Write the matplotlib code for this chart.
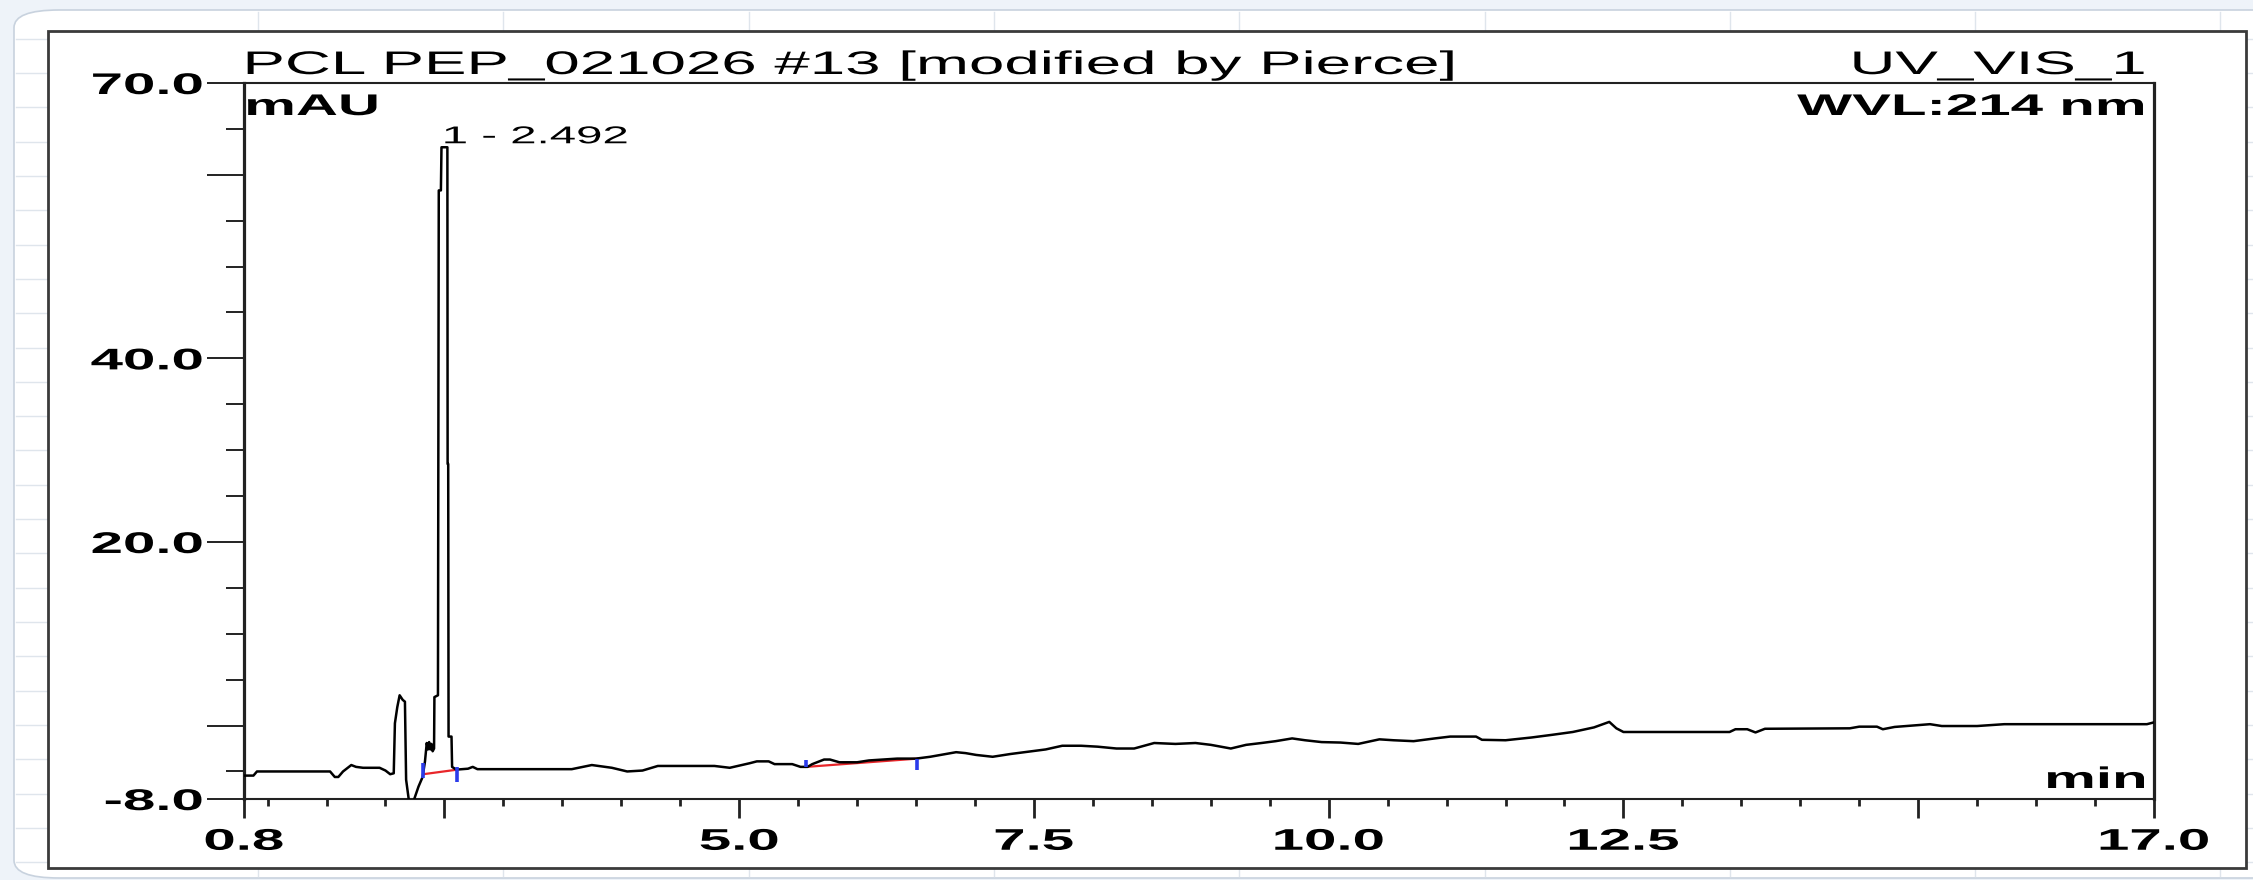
import numpy as np
import matplotlib
matplotlib.use("Agg")
import matplotlib.pyplot as plt
import matplotlib.patheffects as pe
from matplotlib.transforms import Affine2D
from matplotlib.patches import Rectangle, FancyBboxPatch
from matplotlib.lines import Line2D

W, H = 2253, 880
SX = 1.95  # the source screenshot is stretched sideways, text too

plt.rcParams["font.family"] = ["Liberation Sans", "DejaVu Sans"]

# chromatogram trace: retention time (min) and signal (mAU)
time = [0.80, 0.88, 0.91, 1.53, 1.57, 1.60, 1.64, 1.71, 1.75, 1.81, 1.95, 2.00,
        2.04, 2.07, 2.08, 2.10, 2.12, 2.13, 2.146, 2.165, 2.175, 2.20, 2.236,
        2.28, 2.315, 2.335, 2.35, 2.36, 2.37, 2.38, 2.39, 2.40, 2.412, 2.415,
        2.445, 2.452, 2.47, 2.475, 2.51, 2.525, 2.527, 2.532, 2.535, 2.56,
        2.565, 2.60, 2.70, 2.74, 2.78, 3.58, 3.75, 3.92, 4.05, 4.18, 4.31,
        4.79, 4.92, 5.09, 5.15, 5.25, 5.30, 5.45, 5.52, 5.58, 5.62, 5.72, 5.77,
        5.85, 6.00, 6.10, 6.34, 6.50, 6.62, 6.75, 6.84, 6.92, 7.01, 7.15, 7.30,
        7.48, 7.60, 7.74, 7.90, 8.04, 8.20, 8.35, 8.52, 8.70, 8.87, 9.00, 9.17,
        9.30, 9.43, 9.55, 9.69, 9.80, 9.94, 10.10, 10.25, 10.43, 10.55, 10.72,
        10.90, 11.03, 11.25, 11.30, 11.50, 11.72, 11.90, 12.07, 12.25, 12.38,
        12.44, 12.50, 13.40, 13.45, 13.55, 13.62, 13.70, 14.42, 14.50, 14.65,
        14.70, 14.80, 15.10, 15.20, 15.50, 15.73, 16.94, 17.00]
signal = [-5.45, -5.45, -5.0, -5.0, -5.6, -5.6, -5.0, -4.3, -4.5, -4.6, -4.6, -4.9,
          -5.3, -5.2, 0.25, 2.0, 3.3, 3.1, 2.8, 2.6, -5.9, -8.3, -8.3,
          -6.65, -5.6, -3.9, -1.9, -2.6, -1.8, -2.6, -2.0, -2.8, -2.5, 3.1,
          3.3, 58.3, 58.3, 63.0, 63.0, 63.0, 28.5, 28.5, -1.2, -1.2,
          -4.5, -4.8, -4.7, -4.5, -4.75, -4.75, -4.3, -4.6, -5.0, -4.9, -4.4,
          -4.4, -4.6, -4.1, -3.9, -3.9, -4.2, -4.2, -4.5, -4.5, -4.2, -3.7, -3.7,
          -4.0, -4.0, -3.8, -3.6, -3.6, -3.4, -3.1, -2.9, -3.0, -3.2, -3.4, -3.1,
          -2.8, -2.6, -2.2, -2.2, -2.3, -2.5, -2.5, -1.9, -2.0, -1.9, -2.1, -2.5,
          -2.1, -1.9, -1.7, -1.4, -1.6, -1.8, -1.85, -2.0, -1.5, -1.6, -1.7,
          -1.4, -1.2, -1.2, -1.55, -1.6, -1.3, -1.0, -0.7, -0.2, 0.4,
          -0.3, -0.7, -0.7, -0.4, -0.4, -0.75, -0.35, -0.3, -0.12, -0.12,
          -0.4, -0.15, 0.15, -0.05, -0.05, 0.15, 0.15, 0.35]

peak_label = "1 - 2.492"
peak_time = 2.492
peak_height = 63.0

# integration windows: start/end time and baseline value at each end
int_start = [2.32, 5.57]
int_end = [2.61, 6.51]
base_start = [-5.3, -4.5]
base_end = [-4.8, -3.6]

x_major = [0.8, 2.5, 5.0, 7.5, 10.0, 12.5, 15.0, 17.0]
x_labels = ["0.8", "", "5.0", "7.5", "10.0", "12.5", "", "17.0"]
y_major = [-8, 0, 20, 40, 60, 70]
y_labels = ["-8.0", "", "20.0", "40.0", "", "70.0"]

title_left = "PCL PEP_021026 #13 [modified by Pierce]"
title_right = "UV_VIS_1"
unit_y = "mAU"
wvl = "WVL:214 nm"
unit_x = "min"


class StretchX(pe.AbstractPathEffect):
    """draw text paths widened by sx around their alignment point"""
    def __init__(self, sx, ha="left"):
        super().__init__()
        self.sx = sx
        self.ha = ha

    def draw_path(self, renderer, gc, tpath, affine, rgbFace=None):
        bb = tpath.get_extents(affine)
        x0 = {"left": bb.x0, "center": 0.5 * (bb.x0 + bb.x1), "right": bb.x1}[self.ha]
        tr = affine + Affine2D().translate(-x0, 0).scale(self.sx, 1).translate(x0, 0)
        renderer.draw_path(gc, tpath, tr, rgbFace)


def fx(p):
    return p / W


def fy(p):
    return 1 - p / H


fig = plt.figure(figsize=(W / 100, H / 100), dpi=100, facecolor="#eef3f9")

# screenshot background: rounded sheet with faint cell grid
fig.patches.append(FancyBboxPatch((fx(14), fy(878)), fx(W + 40), fy(10) - fy(878),
                                  boxstyle="round,pad=0,rounding_size=0.02",
                                  transform=fig.transFigure, facecolor="white",
                                  edgecolor="#c8d2de", lw=1.2, zorder=-10))
for k in range(9):
    gx = 258 + 245.3 * k
    fig.lines.append(Line2D([fx(gx), fx(gx)], [fy(12), fy(876)], transform=fig.transFigure,
                            color="#dfe5ec", lw=1, zorder=-9))
for k in range(-18, 8):
    gy = 622 + 34.3 * k
    if 12 < gy < 876:
        fig.lines.append(Line2D([fx(16), 1], [fy(gy), fy(gy)], transform=fig.transFigure,
                                color="#dfe5ec", lw=1, zorder=-9))
fig.patches.append(Rectangle((fx(48), fy(868)), fx(2246 - 48), fy(31) - fy(868),
                             transform=fig.transFigure, facecolor="white",
                             edgecolor="#3a3a3a", lw=2.0, zorder=-8))

ax = fig.add_axes([fx(244), fy(799), fx(2154 - 244), fy(83) - fy(799)])
ax.set_facecolor("white")

ax.plot(time, signal, color="black", lw=1.8, zorder=3)
for s0, s1, b0, b1 in zip(int_start, int_end, base_start, base_end):
    ax.plot([s0, s1], [b0, b1], color="#e8262a", lw=1.6, zorder=2)
ax.vlines(int_start[0], base_start[0] - 0.4, base_start[0] + 1.2, color="#2b3bea", lw=2.6, zorder=4)
ax.vlines(int_end[0], base_end[0] - 1.3, base_end[0] + 0.3, color="#2b3bea", lw=2.6, zorder=4)
ax.vlines(int_start[1], base_start[1], base_start[1] + 0.8, color="#2b3bea", lw=2.6, zorder=4)
ax.vlines(int_end[1], base_end[1] - 1.2, base_end[1], color="#2b3bea", lw=2.6, zorder=4)

ax.set_xlim(0.8, 17.0)
ax.set_ylim(-8, 70)

ax.set_xticks(x_major, x_labels)
ax.set_xticks([v for v in np.arange(1.0, 17.0, 0.5) if v not in x_major], minor=True)
ax.set_yticks(y_major, y_labels)
ax.set_yticks([v for v in range(-5, 70, 5) if v not in y_major], minor=True)

ax.tick_params(axis="x", which="major", direction="out", length=13.7, width=2.0, pad=7,
               labelsize=21.5, color="#222222")
ax.tick_params(axis="x", which="minor", direction="out", length=5, width=2.0, color="#222222")
ax.tick_params(axis="y", which="major", direction="out", length=26.6, width=1.4, pad=3,
               labelsize=21.5, color="#222222")
ax.tick_params(axis="y", which="minor", direction="out", length=13, width=1.4, color="#222222")

for side in ["left", "right"]:
    ax.spines[side].set_linewidth(2.3)
    ax.spines[side].set_color("#222222")
for side in ["top", "bottom"]:
    ax.spines[side].set_linewidth(1.5)
    ax.spines[side].set_color("#222222")

for lab in ax.get_xticklabels():
    lab.set_fontweight("bold")
    lab.set_path_effects([StretchX(SX, "center")])
for lab in ax.get_yticklabels():
    lab.set_fontweight("bold")
    lab.set_path_effects([StretchX(SX, "right")])

t = fig.text(fx(245), fy(74), title_left, ha="left", va="baseline", fontsize=23.5)
t.set_path_effects([StretchX(SX, "left")])
t = fig.text(fx(2145), fy(74), title_right, ha="right", va="baseline", fontsize=23.5)
t.set_path_effects([StretchX(SX, "right")])
t = fig.text(fx(246), fy(115), unit_y, ha="left", va="baseline", fontsize=21.5, fontweight="bold")
t.set_path_effects([StretchX(SX, "left")])
t = fig.text(fx(2145), fy(115), wvl, ha="right", va="baseline", fontsize=21.5, fontweight="bold")
t.set_path_effects([StretchX(SX, "right")])
t = fig.text(fx(2146), fy(788), unit_x, ha="right", va="baseline", fontsize=21.5, fontweight="bold")
t.set_path_effects([StretchX(SX, "right")])

t = ax.annotate(peak_label, xy=(peak_time, peak_height), xytext=(0, 4), textcoords="offset pixels",
                ha="left", va="baseline", fontsize=17.5, zorder=5)
t.set_path_effects([StretchX(SX, "left")])

fig.savefig("out.png", dpi=100, facecolor=fig.get_facecolor())
